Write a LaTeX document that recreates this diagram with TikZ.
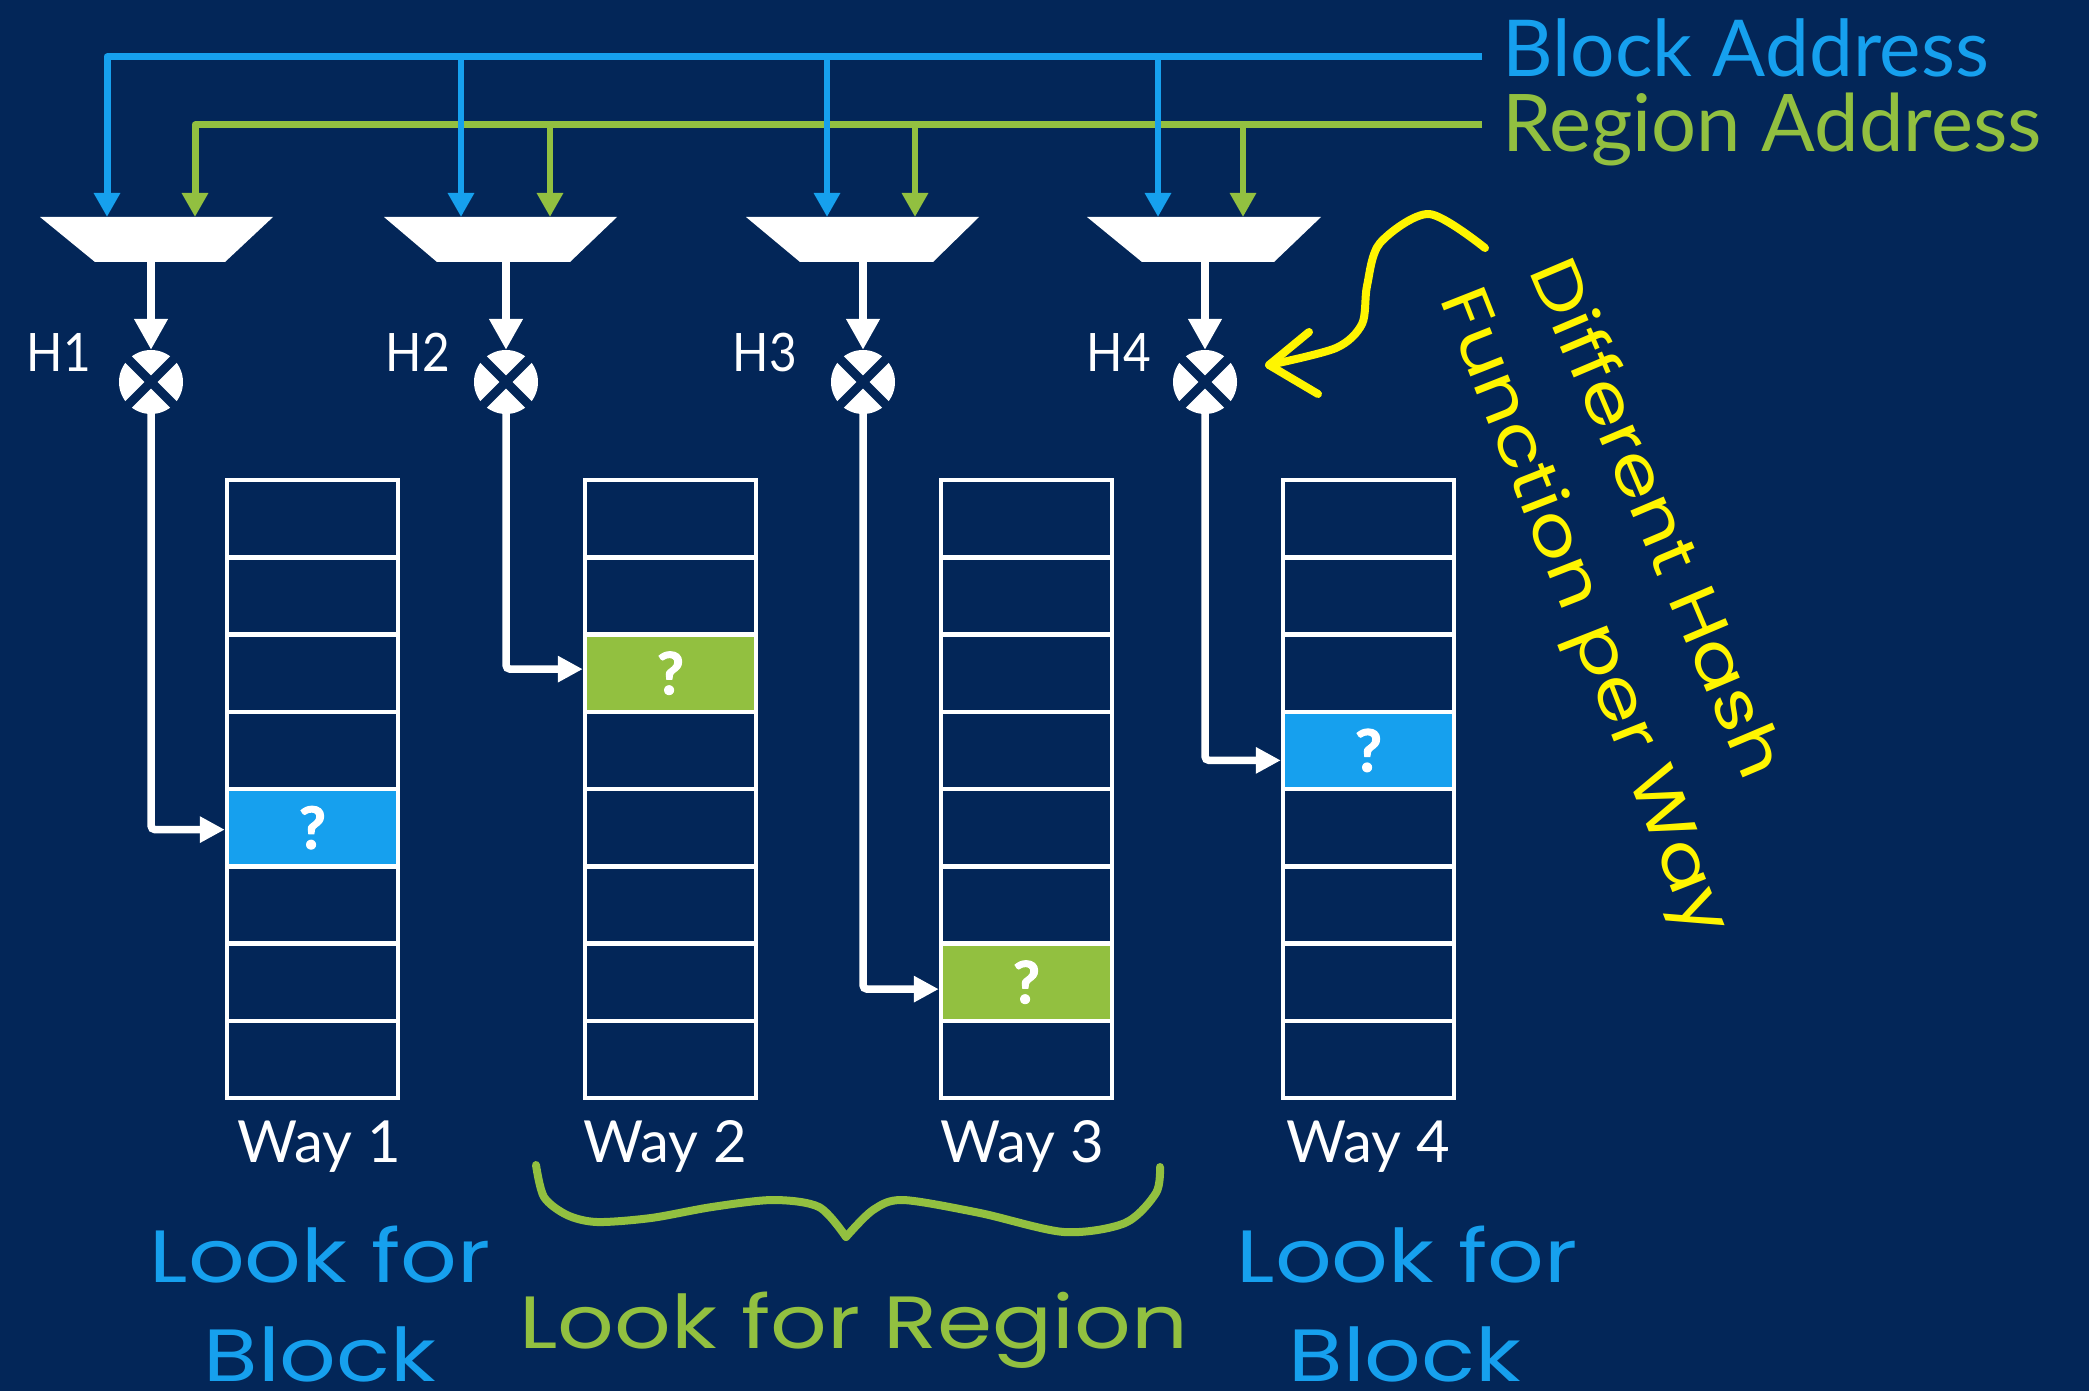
\documentclass[tikz,border=0pt]{standalone}
\usepackage{fontspec}
\setmainfont{Lato}
\newfontfamily\condf[FakeStretch=0.9]{Lato}
\newfontfamily\qf[FakeBold=2.2]{Lato}
\newfontfamily\chalk[FakeStretch=1.2]{Poppins}
\usetikzlibrary{arrows.meta,calc}
\definecolor{navy}{RGB}{3,38,88}
\definecolor{bblue}{RGB}{22,160,238}
\definecolor{bgreen}{RGB}{146,192,64}
\definecolor{chalky}{RGB}{255,245,0}
\begin{document}
\begin{tikzpicture}[x=1pt,y=-1pt,
  bus/.style={line width=7pt, line join=round},
  dropline/.style={line width=6.5pt},
  tipb/.style={-{Triangle[width=25pt,length=24pt]}},
  wline/.style={white, line width=7.5pt},
  tipd/.style={-{Triangle[width=32pt,length=31pt]}},
  tipr/.style={-{Triangle[width=25pt,length=25pt]}},
  cell/.style={draw=white, line width=4.5pt, minimum width=171pt, minimum height=77.25pt, inner sep=0pt},
  hot/.style={cell, text=white, font=\qf\bfseries\fontsize{58}{58}\selectfont},
  xorc/.style={circle, fill=white, minimum size=64pt, inner sep=0pt},
  xcut/.style={navy, line width=9pt},
  title/.style={inner sep=0pt, anchor=base west},
  hlab/.style={inner sep=0pt, text=white, anchor=base east, font=\condf\fontsize{53}{53}\selectfont},
  waylab/.style={inner sep=0pt, text=white, anchor=base, font=\fontsize{58}{58}\selectfont},
  chalkt/.style={inner sep=0pt, anchor=base, font=\chalk\fontsize{74}{74}\selectfont},
  chalkr/.style={inner sep=0pt, anchor=center, text=chalky, font=\chalk\fontsize{66}{66}\selectfont},
  chalkline/.style={line width=8pt, line cap=round, line join=round}
]
\fill[navy] (0,0) rectangle (2089,1391);
\useasboundingbox (0,0) rectangle (2089,1391);

% multiplexers
\foreach \i/\tl/\tr/\bl/\br/\s/\bx/\gx in {1/40/273/95/225/151/107/195,
    2/384/617/437/570/506/461/550, 3/746/979/800/933/863/827/915,
    4/1087/1321/1142/1274/1205/1158/1243}{
  \fill[white] (\tl,217) -- (\tr,217) -- (\br,262) -- (\bl,262) -- cycle;
  \coordinate (mo\i) at (\s,262);
  \coordinate (mb\i) at (\bx,217);
  \coordinate (mg\i) at (\gx,217);
  \node[xorc] (x\i) at (\s,382) {};
  \draw[xcut] ([shift={(-26,-26)}]x\i.center) -- ([shift={(26,26)}]x\i.center);
  \draw[xcut] ([shift={(-26,26)}]x\i.center) -- ([shift={(26,-26)}]x\i.center);
  \draw[wline, tipd] (mo\i) -- (x\i.north);
}

% address buses
\coordinate (gs) at (1482,125);
\coordinate (bs) at (1482,57);
\draw[bgreen, bus, tipb] (gs) -| (mg1);
\foreach \i in {2,3,4} \draw[bgreen, dropline, tipb] (mg\i |- gs) -- (mg\i);
\draw[bblue, bus, tipb] (bs) -| (mb1);
\foreach \i in {2,3,4} \draw[bblue, dropline, tipb] (mb\i |- bs) -- (mb\i);

\node[title, text=bblue, font=\fontsize{78.5}{78.5}\selectfont] (ba) at (1502,77) {Block Address};
\node[title, text=bgreen, font=\fontsize{79.5}{79.5}\selectfont] (ra) at (1502,152) {Region Address};

% hash labels
\node[hlab] (h1) at (91,371) {H1};
\node[hlab] (h2) at (450,371) {H2};
\node[hlab] (h3) at (797,371) {H3};
\node[hlab] (h4) at (1151,371) {H4};

% ways
\foreach \w/\cx in {1/312.5,2/670.5,3/1026.5,4/1368.5}
  \foreach \r in {0,...,7}
    \node[cell] (c\w-\r) at (\cx,{480+77.25*(\r+0.5)}) {};
\node[hot, fill=bblue] (q1) at (c1-4.center) {?};
\node[hot, fill=bgreen] (q2) at (c2-2.center) {?};
\node[hot, fill=bgreen] (q3) at (c3-6.center) {?};
\node[hot, fill=bblue] (q4) at (c4-3.center) {?};

\draw[wline, rounded corners=4pt, tipr] (x1.south) |- ([shift={(0,2)}]q1.west);
\draw[wline, rounded corners=4pt, tipr] (x2.south) |- ([shift={(0,-4)}]q2.west);
\draw[wline, rounded corners=4pt, tipr] (x3.south) |- ([shift={(0,7)}]q3.west);
\draw[wline, rounded corners=4pt, tipr] (x4.south) |- ([shift={(0,10)}]q4.west);

\node[waylab] (wl1) at (319,1162) {Way 1};
\node[waylab] (wl2) at (665,1162) {Way 2};
\node[waylab] (wl3) at (1022,1162) {Way 3};
\node[waylab] (wl4) at (1368,1162) {Way 4};

% chalk annotations
\node[chalkt, text=bblue] (lf1) at (320,1282) {Look for};
\node[chalkt, text=bblue] (bk1) at (320,1381) {Block};
\node[chalkt, text=bblue] (lf4) at (1407,1282) {Look for};
\node[chalkt, text=bblue] (bk4) at (1405,1381) {Block};
\node[chalkt, text=bgreen] (lfr) at (854,1348) {Look for Region};

\coordinate (btip) at (846,1237);
\draw[bgreen, chalkline] plot[smooth] coordinates {(536,1165) (544,1197) (567,1215) (597,1222) (651,1218) (712,1207) (773,1200) (819,1207) (btip)};
\draw[bgreen, chalkline] plot[smooth] coordinates {(btip) (873,1210) (903,1200) (980,1213) (1064,1232) (1125,1223) (1156,1193) (1160,1167)};

\node[chalkr, rotate=-67] (dh) at (1660,517) {Different Hash};
\node[chalkr, rotate=-68.5] (fw) at (1581,613) {Function per Way};

\coordinate (ytip) at (1269,365);
\draw[chalky, chalkline] plot[smooth] coordinates {(1485,248) (1429,214) (1380,243) (1367,286) (1362,324) (1336,348) (ytip)};
\draw[chalky, chalkline] (1309,332) -- (ytip) -- (1318,394);
\end{tikzpicture}
\end{document}
